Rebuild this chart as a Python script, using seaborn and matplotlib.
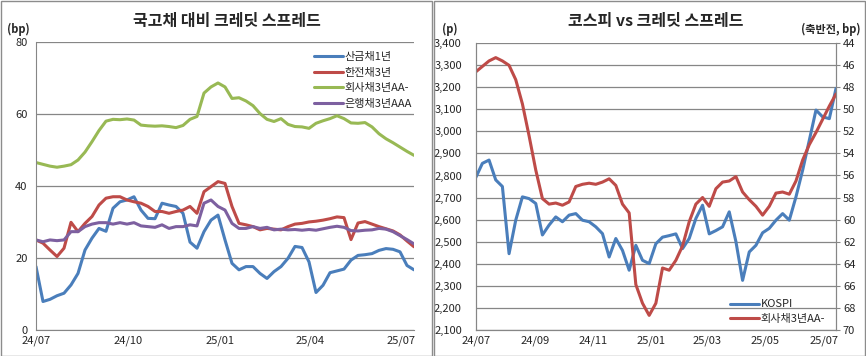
import numpy as np
import pandas as pd
import matplotlib
matplotlib.use("Agg")
import matplotlib.pyplot as plt
import matplotlib.dates as mdates
from matplotlib.patches import Rectangle
from matplotlib.ticker import FuncFormatter, MultipleLocator
import seaborn as sns

sns.set_style("white")
plt.rcParams["font.family"] = ["Noto Sans CJK KR", "DejaVu Sans"]
plt.rcParams["axes.unicode_minus"] = False

# weekly observations, 24/07/01 ~ 25/07/14
dates = pd.date_range("2024-07-01", periods=55, freq="7D")

# 산금채1년 spread (bp)
kdb_1y = [17.7, 8.0, 8.6, 9.6, 10.3, 12.6, 15.8, 22.3, 25.6, 28.3,
          27.5, 33.9, 35.7, 36.2, 37.1, 33.4, 31.1, 31.0, 35.3, 34.8,
          34.4, 32.5, 24.5, 22.8, 27.4, 30.6, 32.0, 25.1, 18.6, 16.8,
          17.7, 17.7, 15.8, 14.4, 16.3, 17.7, 20.0, 23.3, 23.0, 19.0,
          10.5, 12.5, 16.0, 16.5, 17.0, 19.5, 20.8, 21.0, 21.3, 22.2,
          22.7, 22.5, 21.8, 18.0, 16.8]
# 한전채3년 spread (bp)
kepco_3y = [25.1, 24.2, 22.3, 20.5, 22.8, 30.0, 27.4, 29.7, 31.6, 34.8,
            36.7, 37.1, 37.1, 36.2, 35.7, 35.3, 34.4, 33.0, 33.0, 32.5,
            33.0, 33.4, 34.4, 32.5, 38.5, 39.9, 41.3, 40.8, 34.4, 29.7,
            29.3, 28.8, 27.9, 28.3, 28.1, 27.9, 28.8, 29.5, 29.7, 30.1,
            30.3, 30.6, 31.0, 31.5, 31.3, 25.2, 29.8, 30.2, 29.5, 28.8,
            28.2, 27.6, 26.5, 24.8, 23.2]
# 회사채3년AA- spread (bp)
corp_aa = [46.6, 46.1, 45.6, 45.3, 45.6, 46.0, 47.3, 49.5, 52.4, 55.5,
           58.1, 58.6, 58.5, 58.7, 58.4, 57.0, 56.8, 56.7, 56.8, 56.6,
           56.3, 56.9, 58.6, 59.4, 65.9, 67.6, 68.7, 67.6, 64.4, 64.6,
           63.7, 62.4, 60.2, 58.6, 58.0, 58.8, 57.2, 56.6, 56.5, 56.1,
           57.5, 58.2, 58.8, 59.6, 58.8, 57.6, 57.5, 57.7, 56.5, 54.6,
           53.2, 52.1, 50.9, 49.7, 48.6]
# 은행채3년AAA spread (bp)
bank_aaa = [25.1, 24.6, 25.1, 24.9, 25.1, 27.4, 27.4, 28.8, 29.5, 29.9,
            29.9, 29.5, 29.9, 29.5, 29.9, 29.0, 28.8, 28.6, 29.3, 28.3,
            28.8, 28.8, 29.3, 29.0, 35.3, 36.2, 34.4, 33.4, 29.7, 28.3,
            28.3, 28.8, 28.3, 28.6, 27.9, 28.1, 27.9, 28.0, 27.8, 28.0,
            27.8, 28.2, 28.6, 28.9, 28.6, 27.7, 27.6, 27.8, 27.9, 28.3,
            28.1, 27.4, 26.3, 25.2, 24.0]
# KOSPI (p)
kospi = [2790, 2855, 2870, 2780, 2750, 2445, 2597, 2703, 2695, 2673,
         2530, 2575, 2612, 2590, 2620, 2627, 2597, 2590, 2567, 2536,
         2430, 2514, 2460, 2370, 2483, 2415, 2400, 2490, 2520, 2527,
         2535, 2468, 2514, 2605, 2665, 2535, 2550, 2567, 2635, 2500,
         2324, 2453, 2483, 2540, 2560, 2597, 2627, 2597, 2703, 2824,
         2960, 3097, 3066, 3058, 3195]

series_names = ["산금채1년", "한전채3년", "회사채3년AA-", "은행채3년AAA"]
series_vals = [kdb_1y, kepco_3y, corp_aa, bank_aaa]
colors = ["#4a7ebb", "#be4b48", "#98b954", "#7d60a0"]

spread = pd.concat(
    [pd.DataFrame({"date": dates, "bp": v, "series": n}) for n, v in zip(series_names, series_vals)],
    ignore_index=True,
)

grid_c = "#868686"
W, H = 866, 356
fig = plt.figure(figsize=(W / 100, H / 100), dpi=100)

# chart frames
fig.add_artist(Rectangle((0.5 / W, 0.5 / H), 431 / W, 354.5 / H, transform=fig.transFigure,
                         fill=False, edgecolor="#8c8c8c", lw=1))
fig.add_artist(Rectangle((434 / W, 0.5 / H), 431.3 / W, 354.5 / H, transform=fig.transFigure,
                         fill=False, edgecolor="#8c8c8c", lw=1))

xmin, xmax = pd.Timestamp("2024-07-01"), pd.Timestamp("2025-07-14")

# ---- left: credit spread vs KTB
ax1 = fig.add_axes([36 / W, (H - 330.3) / H, 378 / W, 288 / H])
sns.lineplot(data=spread, x="date", y="bp", hue="series", palette=colors,
             linewidth=2.2, ax=ax1)
ax1.set_xlim(xmin, xmax)
ax1.set_ylim(0, 80)
ax1.yaxis.set_major_locator(MultipleLocator(20))
ax1.xaxis.set_major_locator(mdates.MonthLocator(bymonth=[1, 4, 7, 10]))
ax1.xaxis.set_major_formatter(mdates.DateFormatter("%y/%m"))
ax1.grid(axis="y", color=grid_c, lw=0.9)
ax1.set_axisbelow(True)
ax1.set_xlabel("")
ax1.set_ylabel("")
for s in ["top", "right"]:
    ax1.spines[s].set_visible(False)
for s in ["left", "bottom"]:
    ax1.spines[s].set_color(grid_c)
ax1.tick_params(axis="y", length=0, pad=6, labelsize=8)
ax1.tick_params(axis="x", direction="in", length=3, color=grid_c, pad=4, labelsize=8)
ax1.legend(loc="upper left", bbox_to_anchor=(0.72, 0.985), frameon=False, fontsize=8,
           handlelength=2.6, handletextpad=0.15, labelspacing=0.5, borderpad=0)

fig.text(227 / W, 1 - 21 / H, "국고채 대비 크레딧 스프레드", ha="center", va="center",
         fontsize=11.5, fontweight="bold")
fig.text(7 / W, 1 - 29 / H, "(bp)", ha="left", va="center", fontsize=8, fontweight="bold")

# ---- right: KOSPI vs credit spread
ax2 = fig.add_axes([475.7 / W, (H - 329.7) / H, 360.3 / W, 286.4 / H])
ax3 = ax2.twinx()
sns.lineplot(x=dates, y=kospi, color=colors[0], linewidth=2.2, ax=ax2, label="KOSPI", legend=False)
sns.lineplot(x=dates, y=corp_aa, color=colors[1], linewidth=2.2, ax=ax3, label="회사채3년AA-", legend=False)
ax2.set_xlim(xmin, xmax)
ax2.set_ylim(2100, 3400)
ax2.yaxis.set_major_locator(MultipleLocator(100))
ax2.yaxis.set_major_formatter(FuncFormatter(lambda v, p: f"{v:,.0f}"))
ax3.set_ylim(70, 44)
ax3.yaxis.set_major_locator(MultipleLocator(2))
ax2.xaxis.set_major_locator(mdates.MonthLocator(bymonth=[1, 3, 5, 7, 9, 11]))
ax2.xaxis.set_major_formatter(mdates.DateFormatter("%y/%m"))
ax2.grid(axis="y", color=grid_c, lw=0.9)
ax2.set_axisbelow(True)
for a in (ax2, ax3):
    a.set_xlabel("")
    a.set_ylabel("")
    a.spines["top"].set_visible(False)
    for s in ["left", "right", "bottom"]:
        a.spines[s].set_color(grid_c)
ax2.tick_params(axis="y", length=0, pad=10, labelsize=8)
ax2.tick_params(axis="x", direction="in", length=3, color=grid_c, pad=4, labelsize=8)
ax3.tick_params(axis="y", direction="out", length=3, color=grid_c, pad=2, labelsize=8)

h2, l2 = ax2.get_legend_handles_labels()
h3, l3 = ax3.get_legend_handles_labels()
ax3.legend(h2 + h3, l2 + l3, loc="upper left", bbox_to_anchor=(0.69, 0.125), frameon=False,
           fontsize=8, handlelength=2.6, handletextpad=0.15, labelspacing=0.4, borderpad=0)

fig.text(656 / W, 1 - 21 / H, "코스피 vs 크레딧 스프레드", ha="center", va="center",
         fontsize=11.5, fontweight="bold")
fig.text(442 / W, 1 - 29 / H, "(p)", ha="left", va="center", fontsize=8, fontweight="bold")
fig.text(861 / W, 1 - 29 / H, "(축반전, bp)", ha="right", va="center", fontsize=8, fontweight="bold")

fig.savefig("out.png", dpi=100)
